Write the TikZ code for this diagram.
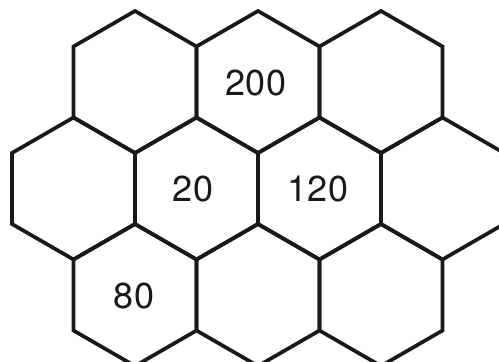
\documentclass[tikz,border=0pt]{standalone}
\usepackage{fontspec}
\setmainfont{TeX Gyre Heros}
\begin{document}
\begin{tikzpicture}[x=1pt,y=-1pt,
  hexline/.style={line width=3.7pt,draw=black!90,line join=miter},
  numlabel/.style={font=\fontsize{36}{40}\selectfont,text=black!90,inner sep=0pt}]
\useasboundingbox (0,0) rectangle (499,362);
\clip (0,0) rectangle (499,362);
\newcommand{\hexat}[2]{%
  \draw[hexline] (#1,#2-71) -- (#1+61.5,#2-35.5) -- (#1+61.5,#2+35.5) -- (#1,#2+71)
    -- (#1-61.5,#2+35.5) -- (#1-61.5,#2-35.5) -- cycle;}
% row 1
\foreach \cx in {135,258,381} {\hexat{\cx}{82}}
% row 2
\foreach \cx in {73.5,196.5,319.5,442.5} {\hexat{\cx}{188.5}}
% row 3
\foreach \cx in {135,258,381} {\hexat{\cx}{295}}
% labels
\node[numlabel] (n200) at (256,83) {200};
\node[numlabel] (n20) at (193,189.5) {20};
\node[numlabel] (n120) at (318,189.5) {120};
\node[numlabel] (n80) at (134,296) {80};
\end{tikzpicture}
\end{document}
